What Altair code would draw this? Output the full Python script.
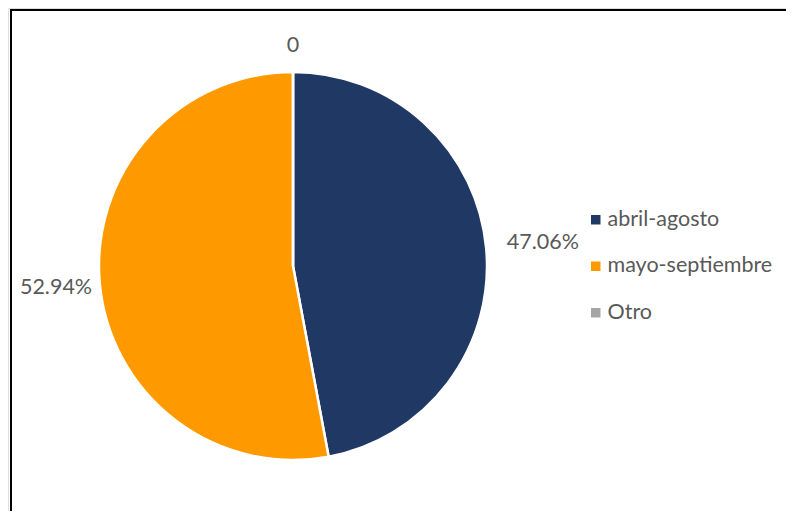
import altair as alt
import pandas as pd

categories = ["abril-agosto", "mayo-septiembre", "Otro"]
values = [47.06, 52.94, 0]
labels = ["47.06%", "52.94%", "0"]
colors = ["#203864", "#FF9900", "#A5A5A5"]
order_idx = [0, 1, 2]

df = pd.DataFrame({"cat": categories, "val": values, "lab": labels, "idx": order_idx})

FONT = "Lato"
TXT = "#595959"
FS = 21.5
cx, cy = 285, 258

pie = alt.Chart(df).mark_arc(outerRadius=194, stroke="white", strokeWidth=2.5).encode(
    theta=alt.Theta("val:Q", stack=True),
    order=alt.Order("idx:Q"),
    color=alt.Color(
        "cat:N",
        scale=alt.Scale(domain=categories, range=colors),
        sort=categories,
        legend=alt.Legend(
            orient="none", legendX=577, legendY=201, title=None,
            symbolType="square", symbolSize=90, symbolStrokeWidth=0,
            labelFontSize=FS, labelFont=FONT, labelColor=TXT,
            rowPadding=23.5, labelOffset=1, labelLimit=0,
        ),
    ),
    x=alt.value(cx),
    y=alt.value(cy),
)

text = alt.Chart(df).transform_joinaggregate(
    total="sum(val)"
).transform_window(
    cum="sum(val)", sort=[alt.SortField("idx")]
).transform_calculate(
    mid="(datum.cum - datum.val / 2) / datum.total",
    r="datum.cat == 'abril-agosto' ? 251 : (datum.cat == 'mayo-septiembre' ? 238 : 220)",
).mark_text(fontSize=FS, font=FONT, color=TXT, align="center", baseline="middle").encode(
    theta=alt.Theta("mid:Q", stack=None, scale=alt.Scale(domain=[0, 1], range=[0, 6.283185307179586])),
    text="lab:N",
    radius=alt.Radius("r:Q", scale=None),
    x=alt.value(cx),
    y=alt.value(cy),
)

frame_df = pd.DataFrame({"a": [0]})
vline = alt.Chart(frame_df).mark_rule(color="black", strokeWidth=2).encode(
    x=alt.value(3), y=alt.value(1), y2=alt.value(700)
)
hline = alt.Chart(frame_df).mark_rule(color="black", strokeWidth=2).encode(
    x=alt.value(2), x2=alt.value(900), y=alt.value(2)
)

chart = alt.layer(pie, text, vline, hline).resolve_scale(theta="independent").properties(
    width=778, height=503, padding=0, autosize=alt.AutoSizeParams(type="none")
).configure_view(stroke=None).configure(background="white")

chart.save("out.html", embed_options={"renderer": "svg", "actions": False})
